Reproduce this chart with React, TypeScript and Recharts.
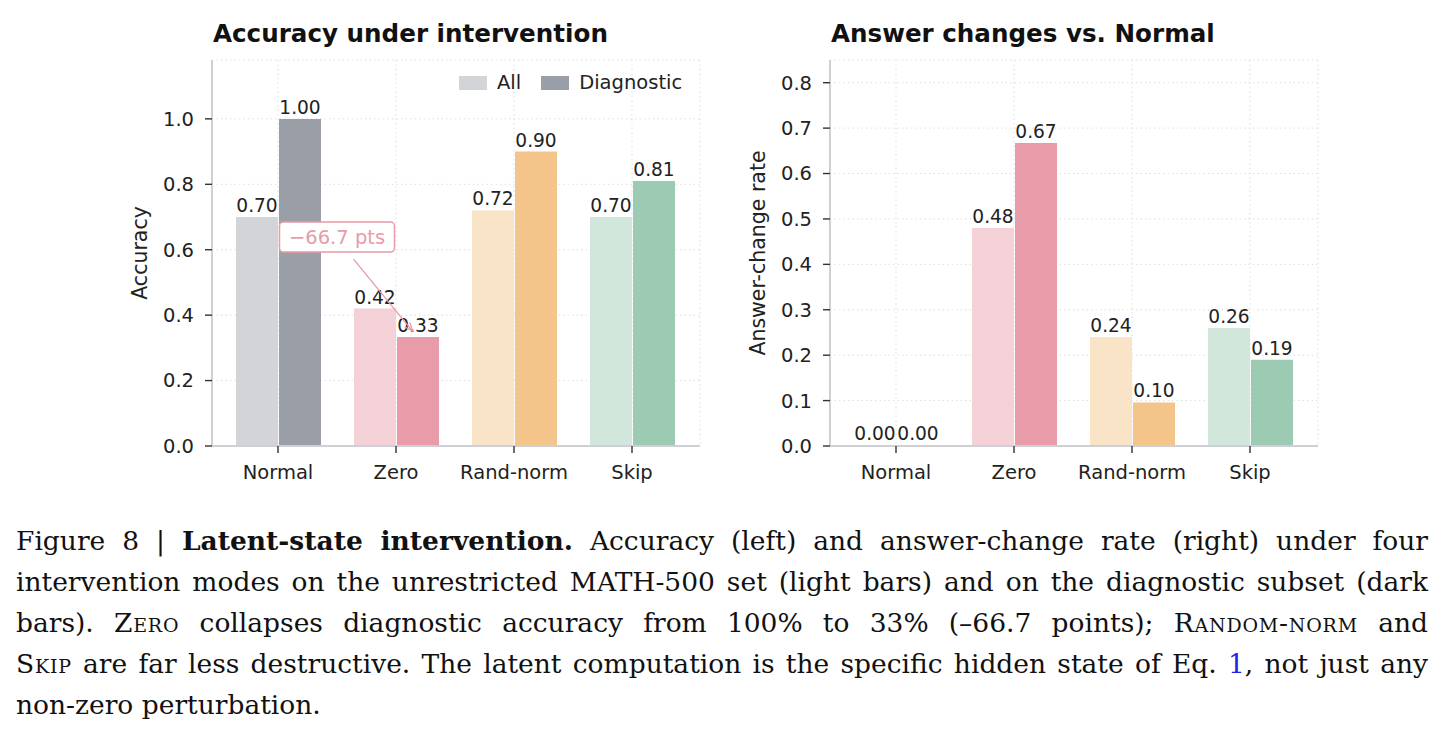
import React from 'react';
import { BarChart, Bar, XAxis, YAxis, CartesianGrid, Cell, LabelList, Legend } from 'recharts';

// Intervention modes along the x axis
const categories = ['Normal', 'Zero', 'Rand-norm', 'Skip'];

// Accuracy under each intervention (left panel)
const accuracyAll = [0.70, 0.42, 0.72, 0.70];
const accuracyDiagnostic = [1.00, 0.333, 0.90, 0.81];

// Fraction of answers that change relative to Normal (right panel)
const changeAll = [0.00, 0.48, 0.24, 0.26];
const changeDiagnostic = [0.00, 0.667, 0.096, 0.19];

const accuracyTicks = [0, 0.2, 0.4, 0.6, 0.8, 1.0];
const changeTicks = [0, 0.1, 0.2, 0.3, 0.4, 0.5, 0.6, 0.7, 0.8];

const seriesNames = ['All', 'Diagnostic'];
const lightColors = ['#d3d4d8', '#f4d0d7', '#f9e4c8', '#d2e7dc'];
const darkColors = ['#9a9fa7', '#e89ba8', '#f3c58b', '#9ccab3'];

const accuracyRows = categories.map((c, i) => ({ mode: c, all: accuracyAll[i], diag: accuracyDiagnostic[i] }));
const changeRows = categories.map((c, i) => ({ mode: c, all: changeAll[i], diag: changeDiagnostic[i] }));

const FONT = '"DejaVu Sans", sans-serif';
const TEXT = '#222222';
const ANNOT = '#e89ba8';

const CHART_W = 700;
const CHART_H = 500;
const MARGIN = { top: 52, right: 8, bottom: 22, left: 132 };

const fmt2 = (v: any) => Number(v).toFixed(2);
// zero-valued bars keep a hairline footprint so their value labels are still placed
const zeroFootprint = (v: any) => (Number(v) === 0 ? 1 : 0);

// Callout from the Normal diagnostic bar down to the Zero diagnostic bar
const zeroIdx = categories.indexOf('Zero');
const dropPts = (accuracyDiagnostic[zeroIdx] - accuracyDiagnostic[0]) * 100;
const dropText = (dropPts < 0 ? '\u2212' : '+') + Math.abs(dropPts).toFixed(1) + ' pts';

function DropCallout(props: any) {
  const { index } = props;
  if (index !== zeroIdx) return null;
  const vb = props.viewBox || props;
  const bx = Number(vb.x);
  const top = Number(vb.y);
  const sx = bx - 43.5;
  const sy = top - 78;
  const ex = bx + 15.5;
  const ey = top - 6;
  const ang = Math.atan2(ey - sy, ex - sx);
  const hl = 9;
  const spread = 0.38;
  const h1x = ex - hl * Math.cos(ang - spread);
  const h1y = ey - hl * Math.sin(ang - spread);
  const h2x = ex - hl * Math.cos(ang + spread);
  const h2y = ey - hl * Math.sin(ang + spread);
  return (
    <g>
      <line x1={sx} y1={sy} x2={ex} y2={ey} stroke={ANNOT} strokeWidth={1.3} />
      <polyline points={`${h1x},${h1y} ${ex},${ey} ${h2x},${h2y}`} fill="none" stroke={ANNOT} strokeWidth={1.3} />
      <rect x={bx - 117.5} y={top - 115} width={115} height={30} rx={4} ry={4} fill="#ffffff" stroke={ANNOT} strokeWidth={1.5} />
      <text x={bx - 60} y={top - 100} textAnchor="middle" dominantBaseline="central" fontSize={19.5} fill={ANNOT} fontFamily={FONT}>
        {dropText}
      </text>
    </g>
  );
}

function LegendBox(props: any) {
  const items = (props.payload || []) as any[];
  return (
    <div style={{ display: 'flex', alignItems: 'center', height: 22, fontFamily: FONT, fontSize: 19.5, color: TEXT }}>
      {items.map((it, i) => (
        <div key={i} style={{ display: 'flex', alignItems: 'center', marginRight: i < items.length - 1 ? 20 : 0 }}>
          <div style={{ width: 28, height: 14, background: it.color, marginRight: 10 }} />
          <span style={{ lineHeight: '22px', whiteSpace: 'nowrap' }}>{it.value}</span>
        </div>
      ))}
    </div>
  );
}

function Panel(props: {
  rows: any[];
  domainMax: number;
  ticks: number[];
  yLabel: string;
  showLegend?: boolean;
  showCallout?: boolean;
}) {
  const { rows, domainMax, ticks, yLabel, showLegend, showCallout } = props;
  const valueLabel = { fontSize: 18.6, fill: TEXT, fontFamily: FONT };
  return (
    <BarChart width={CHART_W} height={CHART_H} data={rows} margin={MARGIN} barSize={42} barGap={1}>
      <CartesianGrid stroke="#dedede" strokeDasharray="1.5 3" strokeWidth={1} />
      <XAxis
        dataKey="mode"
        height={40}
        padding={{ left: 7, right: 9 }}
        tickSize={7}
        tickMargin={12}
        tick={{ fontSize: 19.5, fill: TEXT, fontFamily: FONT }}
        axisLine={{ stroke: '#cfd0d6', strokeWidth: 2 }}
        tickLine={{ stroke: '#333333', strokeWidth: 1.4 }}
      />
      <YAxis
        width={72}
        type="number"
        domain={[0, domainMax]}
        ticks={ticks}
        allowDataOverflow
        tickFormatter={(v: number) => v.toFixed(1)}
        tickSize={7}
        tickMargin={11}
        tick={{ fontSize: 19.5, fill: TEXT, fontFamily: FONT }}
        axisLine={{ stroke: '#cfd0d6', strokeWidth: 2 }}
        tickLine={{ stroke: '#333333', strokeWidth: 1.4 }}
        label={{
          value: yLabel,
          angle: -90,
          position: 'insideLeft',
          offset: 0,
          style: { textAnchor: 'middle', fontSize: 20.5, fill: TEXT, fontFamily: FONT },
        }}
      />
      {showLegend && (
        <Legend
          layout="horizontal"
          verticalAlign="middle"
          align="center"
          wrapperStyle={{ top: 64, left: 451, right: 'auto', bottom: 'auto', width: 'auto', height: 22 }}
          content={(p: any) => <LegendBox {...p} />}
        />
      )}
      <Bar dataKey="all" name={seriesNames[0]} fill={lightColors[0]} minPointSize={zeroFootprint} isAnimationActive={false}>
        {rows.map((r, i) => (
          <Cell key={i} fill={lightColors[i]} fillOpacity={r.all === 0 ? 0 : 1} />
        ))}
        <LabelList dataKey="all" position="top" offset={5} formatter={fmt2} style={valueLabel} />
      </Bar>
      <Bar dataKey="diag" name={seriesNames[1]} fill={darkColors[0]} minPointSize={zeroFootprint} isAnimationActive={false}>
        {rows.map((r, i) => (
          <Cell key={i} fill={darkColors[i]} fillOpacity={r.diag === 0 ? 0 : 1} />
        ))}
        <LabelList dataKey="diag" position="top" offset={5} formatter={fmt2} style={valueLabel} />
        {showCallout && <LabelList dataKey="diag" content={(p: any) => <DropCallout {...p} />} />}
      </Bar>
    </BarChart>
  );
}

const titleStyle: React.CSSProperties = {
  position: 'absolute',
  top: 14,
  fontFamily: FONT,
  fontWeight: 'bold',
  fontSize: 24.6,
  lineHeight: '1',
  color: '#111',
  whiteSpace: 'nowrap',
};

const lineStyle: React.CSSProperties = {
  textAlign: 'justify',
  textAlignLast: 'justify',
  whiteSpace: 'normal',
};

const sc: React.CSSProperties = { fontVariant: 'small-caps', letterSpacing: '0.03em' };

export default function App() {
  return (
    <div style={{ position: 'relative', width: 1427, height: 720, background: '#ffffff' }}>
      <div style={{ position: 'absolute', left: 0, top: 0, fontFamily: FONT }}>
        <Panel rows={accuracyRows} domainMax={1.18} ticks={accuracyTicks} yLabel="Accuracy" showLegend showCallout />
      </div>
      <div style={{ ...titleStyle, left: 205 }}>Accuracy under intervention</div>

      <div style={{ position: 'absolute', left: 618, top: 0, fontFamily: FONT }}>
        <Panel rows={changeRows} domainMax={0.85} ticks={changeTicks} yLabel="Answer-change rate" />
      </div>
      <div style={{ ...titleStyle, left: 823 }}>Answer changes vs. Normal</div>

      <div
        style={{
          position: 'absolute',
          left: 8,
          top: 512,
          width: 1412,
          fontFamily: '"DejaVu Serif", "Liberation Serif", serif',
          fontSize: 26.5,
          lineHeight: '41px',
          color: '#111',
        }}
      >
        <div style={lineStyle}>
          Figure 8 | <b>Latent-state intervention.</b> Accuracy (left) and answer-change rate (right) under four
        </div>
        <div style={lineStyle}>
          intervention modes on the unrestricted MATH-500 set (light bars) and on the diagnostic subset (dark
        </div>
        <div style={lineStyle}>
          bars). <span style={sc}>Zero</span> collapses diagnostic accuracy from 100% to 33% (–66.7 points);{' '}
          <span style={sc}>Random-norm</span> and
        </div>
        <div style={lineStyle}>
          <span style={sc}>Skip</span> are far less destructive. The latent computation is the specific hidden state of Eq.{' '}
          <span style={{ color: '#1f1fe8' }}>1</span>, not just any
        </div>
        <div style={{ textAlign: 'left' }}>non-zero perturbation.</div>
      </div>
    </div>
  );
}
